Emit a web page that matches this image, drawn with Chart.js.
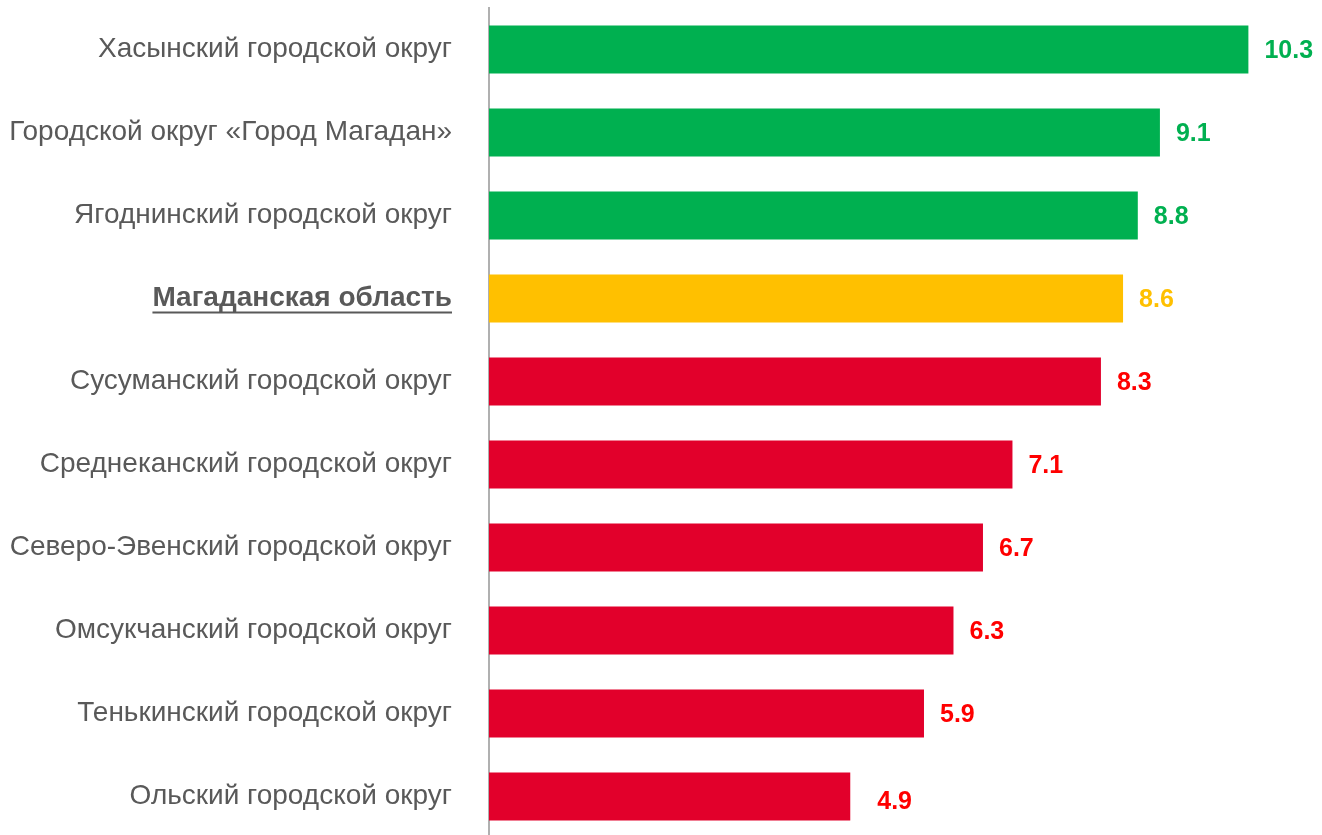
<!DOCTYPE html>
<html>
<head>
<meta charset="utf-8">
<script src="https://cdn.jsdelivr.net/npm/chart.js@4/dist/chart.umd.min.js"></script>
<style>
  html, body { margin: 0; padding: 0; background: #fff; overflow: hidden; }
  canvas { display: block; }
</style>
</head>
<body>
<canvas id="myChart" width="1322" height="845"></canvas>
<script>
'use strict';

// Data
const districts = [
  'Хасынский городской округ',
  'Городской округ «Город Магадан»',
  'Ягоднинский городской округ',
  'Магаданская область',
  'Сусуманский городской округ',
  'Среднеканский городской округ',
  'Северо-Эвенский городской округ',
  'Омсукчанский городской округ',
  'Тенькинский городской округ',
  'Ольский городской округ'
];
const values = [10.3, 9.1, 8.8, 8.6, 8.3, 7.1, 6.7, 6.3, 5.9, 4.9];
const groups = ['up', 'up', 'up', 'region', 'down', 'down', 'down', 'down', 'down', 'down'];

const barColors = { up: '#00B050', region: '#FFC000', down: '#E2002B' };
const labelColors = { up: '#00B050', region: '#FFC000', down: '#FF0000' };
const regionIndex = 3;

const fontFamily = 'Arial, "Liberation Sans", sans-serif';
const textGray = '#595959';
const tickPadding = 37;

// Value labels after bars + underline of region name
const valueLabels = {
  id: 'valueLabels',
  afterDatasetsDraw(chart) {
    const ctx = chart.ctx;
    const meta = chart.getDatasetMeta(0);
    ctx.save();
    ctx.font = `bold 25px ${fontFamily}`;
    ctx.textAlign = 'left';
    ctx.textBaseline = 'middle';
    meta.data.forEach((bar, i) => {
      // last label sits a bit further out in the original
      const last = i === values.length - 1;
      ctx.fillStyle = labelColors[groups[i]];
      ctx.fillText(values[i].toFixed(1), bar.x + (last ? 27 : 16), bar.y + (last ? 6 : 2));
    });
    ctx.restore();
  },
  afterDraw(chart) {
    const ctx = chart.ctx;
    const yScale = chart.scales.y;
    const y = yScale.getPixelForTick(regionIndex);
    const right = yScale.right - tickPadding;
    ctx.save();
    ctx.font = `bold 28px ${fontFamily}`;
    const w = ctx.measureText(districts[regionIndex]).width;
    ctx.fillStyle = textGray;
    ctx.fillRect(right - w, y + 13, w, 2);
    ctx.restore();
  }
};

const ctx = document.querySelector('#myChart').getContext('2d');

const myChart = new Chart(ctx, {
  type: 'bar',
  data: {
    labels: districts,
    datasets: [{
      data: values,
      backgroundColor: groups.map(g => barColors[g]),
      borderWidth: 0,
      categoryPercentage: 1,
      barPercentage: 0.578
    }]
  },
  options: {
    indexAxis: 'y',
    responsive: false,
    animation: false,
    layout: {
      padding: { left: 0, right: 22, top: 8, bottom: 7 }
    },
    scales: {
      x: {
        min: 0,
        max: 11,
        display: false,
        grid: { display: false }
      },
      y: {
        afterFit: (scale) => {
          scale.width = 489;
          scale.paddingTop = 0;
          scale.paddingBottom = 0;
        },
        grid: { display: false, drawTicks: false },
        border: { display: true, color: '#B0B0B0', width: 2 },
        ticks: {
          padding: tickPadding,
          color: textGray,
          font: (c) => (c.index === regionIndex
            ? { family: fontFamily, size: 28, weight: 'bold' }
            : { family: fontFamily, size: 28 })
        }
      }
    },
    plugins: {
      legend: { display: false },
      tooltip: { enabled: false }
    }
  },
  plugins: [valueLabels]
});
</script>
</body>
</html>
